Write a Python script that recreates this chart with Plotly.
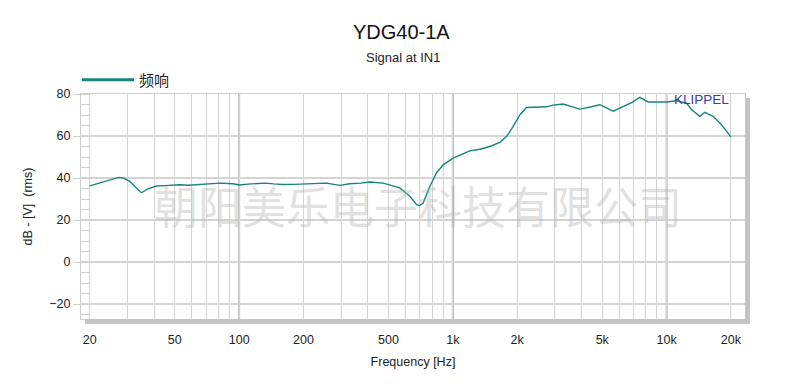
import plotly.graph_objects as go

# ---- data ----
freq_hz = [20, 21.5, 23.5, 25, 27.3, 28.6, 30.8, 32.8, 34.9, 37.4, 41.0, 45, 52.8, 58, 65.4, 73,
           81.2, 93.4, 100.7, 110, 120.5, 131.8, 145, 160, 180, 203, 230, 256, 296, 329, 370, 409,
           472, 507, 564, 629, 676, 700, 726, 780, 838, 900, 1003, 1100, 1200, 1337, 1489,
           1658, 1782, 1913, 2057, 2211, 2463, 2743, 2944, 3280, 3600, 3926, 4400, 4870, 5620,
           6260, 6900, 7494, 8195, 9000, 9990, 11130, 12390, 13080, 14300, 15100, 16510, 18070, 20000]
spl_db = [36.3, 37.2, 38.3, 39.2, 40.3, 40.1, 38.4, 35.6, 33.0, 34.8, 36.2, 36.4, 36.8, 36.6, 37.0, 37.2,
          37.6, 37.3, 36.7, 37.1, 37.2, 37.6, 37.2, 36.9, 37.0, 37.2, 37.1, 37.6, 36.5, 37.3, 37.6, 38.1,
          37.6, 36.8, 35.3, 31.3, 27.3, 26.9, 28.1, 36.0, 42.4, 46.3, 49.5, 51.3, 52.9, 53.7, 55.0,
          57.0, 59.7, 64.5, 70.0, 73.6, 73.6, 73.9, 74.7, 75.2, 74.0, 72.8, 73.8, 74.9, 71.8,
          74.1, 76.0, 78.4, 76.2, 76.2, 76.2, 76.8, 75.7, 72.6, 69.4, 71.3, 69.4, 65.4, 59.6]

x_tick_vals = [20, 50, 100, 200, 500, 1000, 2000, 5000, 10000, 20000]
x_tick_text = ["20", "50", "100", "200", "500", "1k", "2k", "5k", "10k", "20k"]
x_grid_vals = [m * 10 ** e for e in range(1, 5) for m in range(1, 10) if 20 <= m * 10 ** e <= 20000]
x_major_vals = [100, 1000, 10000]
y_tick_vals = [-20, 0, 20, 40, 60, 80]

series_name = "频响"
title_text = "YDG40-1A"
subtitle_text = "Signal at IN1"
watermark_text = "朝阳美乐电子科技有限公司"

teal = "#15857b"
grid = "#d4d4d4"
font_main = "Liberation Sans, Arial, sans-serif"
cjk = "Noto Sans CJK SC, sans-serif"

fig = go.Figure()
fig.add_trace(go.Scatter(x=freq_hz, y=spl_db, mode="lines", line=dict(color=teal, width=1.4),
                         showlegend=False, hoverinfo="x+y"))
fig.add_trace(go.Scatter(x=[None], y=[None], mode="lines", line=dict(color=teal, width=3),
                         name=series_name, showlegend=True))

for v in x_major_vals:
    fig.add_shape(type="line", xref="x", yref="paper", x0=v, x1=v, y0=0, y1=1,
                  line=dict(color="#b8b8b8", width=2), layer="between")

# plot area geometry (px) used to place paper-referenced items
W, H = 664.0, 225.0
L0, B0 = 81.0, 319.0   # plot left / bottom in page px


def px_x(x):
    return (x - L0) / W


def px_y(y):
    return (B0 - y) / H


# drop shadow (bottom and right)
fig.add_shape(type="rect", xref="paper", yref="paper", x0=4 / W, x1=1 + 5 / W, y0=-5 / H, y1=0,
              fillcolor="#c4c4c4", line=dict(width=0), layer="above")
fig.add_shape(type="rect", xref="paper", yref="paper", x0=1, x1=1 + 5 / W, y0=-5 / H, y1=1 - 4 / H,
              fillcolor="#c4c4c4", line=dict(width=0), layer="above")

# page body has an 8px margin: figure is 774x373 placed at (8,8)
fig.update_layout(
    width=774, height=373,
    margin=dict(l=73, r=37, t=86, b=62, autoexpand=False),
    paper_bgcolor="white", plot_bgcolor="white",
    font=dict(family=font_main, size=12, color="#222"),
    legend=dict(x=px_x(77), y=px_y(80), xanchor="left", yanchor="middle", itemwidth=52,
                font=dict(family=cjk, size=15, color="#222"), bgcolor="rgba(0,0,0,0)"),
    annotations=[
        dict(text=title_text, xref="paper", yref="paper", x=px_x(401), y=px_y(32),
             xanchor="center", yanchor="middle",
             showarrow=False, font=dict(size=20, color="#111", family=font_main)),
        dict(text=subtitle_text, xref="paper", yref="paper", x=px_x(403), y=px_y(57),
             xanchor="center", yanchor="middle",
             showarrow=False, font=dict(size=13, color="#222", family=font_main)),
        dict(text="KLIPPEL", xref="paper", yref="paper", x=px_x(731), y=px_y(99.5),
             xanchor="right", yanchor="middle",
             showarrow=False, font=dict(size=13.5, color="#3a3aaa", family=font_main)),
        dict(text=watermark_text, xref="paper", yref="paper", x=px_x(418), y=px_y(205),
             xanchor="center", yanchor="middle",
             showarrow=False, font=dict(size=44, color="rgba(175,175,175,0.4)", family=cjk)),
    ],
)

fig.update_xaxes(type="log", range=[1.2600, 4.3670], automargin=False,
                 tickvals=x_tick_vals, ticktext=x_tick_text, showgrid=False,
                 ticks="", ticklabelstandoff=9, tickfont=dict(size=12.5, color="#222"),
                 showline=True, mirror=True, linecolor="#cfcfcf", linewidth=1,
                 minor=dict(tickvals=x_grid_vals, showgrid=True, gridcolor=grid, gridwidth=1, ticks=""),
                 title=dict(text="Frequency [Hz]", font=dict(size=12.5, color="#222"), standoff=11),
                 zeroline=False)
fig.update_yaxes(range=[-27.1, 80], tickvals=y_tick_vals, showgrid=True, gridcolor=grid, gridwidth=1.5,
                 automargin=False,
                 ticks="outside", ticklen=7, tickcolor="#cfcfcf",
                 tickfont=dict(size=12.5, color="#222"),
                 showline=True, mirror=True, linecolor="#cfcfcf", linewidth=1,
                 minor=dict(dtick=5, ticks="inside", ticklen=9, tickcolor="#d0d0d0", showgrid=False),
                 title=dict(text="dB - [V]  (rms)", font=dict(size=12.5, color="#222"), standoff=13),
                 zeroline=False)

fig.write_html("out.html")
